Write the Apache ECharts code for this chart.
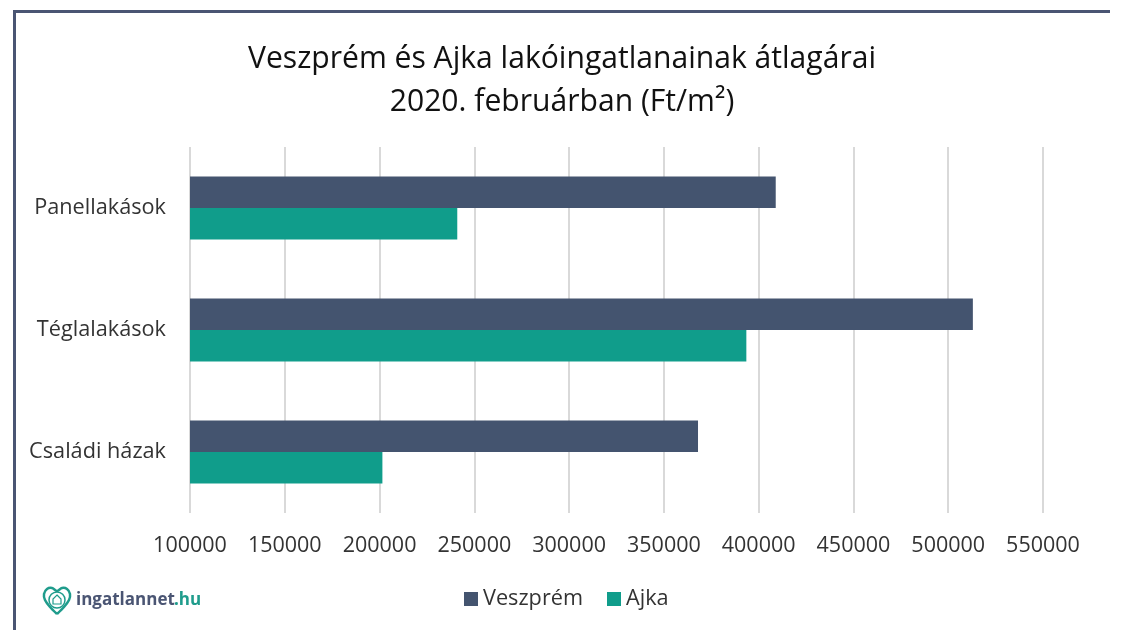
<!DOCTYPE html>
<html><head><meta charset="utf-8">
<style>html,body{margin:0;padding:0;background:#fff}#c{width:1126px;height:630px}</style>
<script src="https://cdn.jsdelivr.net/npm/echarts@6/dist/echarts.min.js"></script>
</head><body><div id="c"></div>
<script>
const categories = ['Panellakások', 'Téglalakások', 'Családi házak'];
const veszprem = [409000, 513000, 368000];
const ajka = [241000, 393500, 201500];
const axisMin = 100000, axisMax = 550000, axisStep = 50000;
const titleText = 'Veszprém és Ajka lakóingatlanainak átlagárai\n2020. februárban (Ft/m²)';
const font = '"Open Sans", "Noto Sans", sans-serif';
const chart = echarts.init(document.getElementById('c'), null, {renderer: 'canvas'});
chart.setOption({
  animation: false,
  backgroundColor: '#ffffff',
  title: {text: titleText, left: 557, top: 33, textAlign: 'center',
    textStyle: {fontFamily: font, fontSize: 30.1, fontWeight: 400, color: '#111', lineHeight: 43}},
  legend: {left: 459, top: 583, itemWidth: 14, itemHeight: 14, itemGap: 24, icon: 'rect',
    textStyle: {fontFamily: font, fontSize: 21.7, color: '#333', padding: [0, 0, 0, 0]}},
  grid: {left: 190, right: 83, top: 147, bottom: 117},
  xAxis: {type: 'value', min: axisMin, max: axisMax, interval: axisStep,
    axisLine: {show: false}, axisTick: {show: false},
    axisLabel: {fontFamily: font, fontSize: 21.5, color: '#333', margin: 22, formatter: v => String(v)},
    splitLine: {show: true, lineStyle: {color: '#d9d9d9', width: 2}}},
  yAxis: {type: 'category', inverse: true, data: categories,
    axisLine: {show: false}, axisTick: {show: false},
    axisLabel: {fontFamily: font, fontSize: 21.7, color: '#333', margin: 24, lineHeight: 30, padding: [6, 0, 0, 0]}},
  series: [
    {name: 'Veszprém', type: 'bar', data: veszprem, barWidth: 31.5, barGap: 0, itemStyle: {color: '#44546f'}},
    {name: 'Ajka', type: 'bar', data: ajka, barWidth: 31.5, barGap: 0, itemStyle: {color: '#109d8b'}}
  ],
  graphic: [
    {type: 'rect', shape: {x: 13, y: 10, width: 1097, height: 3}, style: {fill: '#4a5573'}},
    {type: 'rect', shape: {x: 13, y: 10, width: 3, height: 620}, style: {fill: '#4a5573'}},
    {type: 'polyline', shape: {points: [[57,614],[50,607],[45,600],[44,594],[47,589],[52,588],[57,591],[62,588],[67,589],[70,594],[69,600],[64,607],[57,614]], smooth: 0.3},
      style: {fill: 'none', stroke: '#1f9c8c', lineWidth: 2.5}},
    {type: 'circle', shape: {cx: 57, cy: 600, r: 8}, style: {fill: 'none', stroke: '#1f9c8c', lineWidth: 1.5}},
    {type: 'polygon', shape: {points: [[57,595],[61,599],[61,604],[53,604],[53,599]]},
      style: {fill: 'none', stroke: '#1f9c8c', lineWidth: 1.2}},
    {type: 'text', style: {x: 76, y: 592, text: 'ingatlannet', fill: '#4a5573', font: 'bold 17px ' + font}},
    {type: 'text', style: {x: 174, y: 592, text: '.hu', fill: '#1f9c8c', font: 'bold 17px ' + font}}
  ]
});
</script></body></html>
